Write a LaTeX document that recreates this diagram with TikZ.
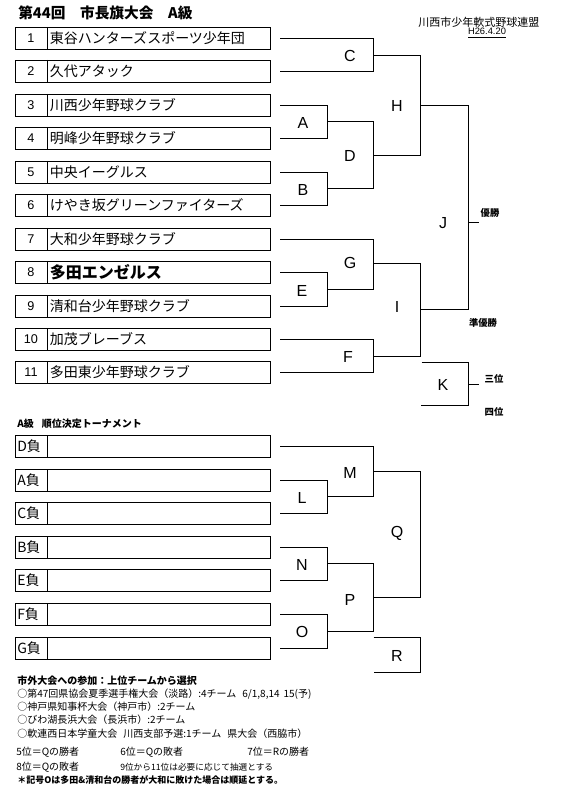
\documentclass[tikz,border=0pt]{standalone}
\usepackage{fontspec}
\setmainfont{Noto Sans CJK JP}
\newfontfamily\arialfont{Liberation Sans}
\tikzset{
  teambox/.style={draw, line width=0.75pt, minimum width=191.25pt, minimum height=16.5pt, inner sep=0pt},
  numlabel/.style={inner sep=0pt, font=\arialfont\fontsize{9.5pt}{10pt}\selectfont},
  namelabel/.style={anchor=west, inner sep=0pt, font=\fontsize{10.5pt}{11pt}\selectfont},
  roundlabel/.style={inner sep=0pt, font=\arialfont\fontsize{12pt}{12pt}\selectfont},
  placelabel/.style={inner sep=0pt, font=\bfseries\fontsize{7pt}{7pt}\selectfont},
  note/.style={anchor=west, inner sep=0pt, font=\fontsize{7.5pt}{8pt}\selectfont},
  smallnote/.style={anchor=west, inner sep=0pt, font=\fontsize{6.5pt}{7pt}\selectfont},
  boldnote/.style={note, font=\bfseries\fontsize{7.5pt}{8pt}\selectfont},
  bracketline/.style={line width=0.75pt}
}
\begin{document}
\begin{tikzpicture}[x=0.75pt, y=-0.75pt]
  \useasboundingbox (0,0) rectangle (577,787);
  % headings
  \node[anchor=west, inner sep=0pt, font=\bfseries\fontsize{11pt}{12pt}\selectfont] (title) at (18,13) {第44回\hspace{1em}市長旗大会\hspace{1em}A級};
  \node[anchor=west, inner sep=0pt, font=\fontsize{8.25pt}{9pt}\selectfont] (league) at (418,22) {川西市少年軟式野球連盟};
  \node[inner sep=0pt, font=\arialfont\fontsize{7pt}{7pt}\selectfont] (date) at (487,33) {\underline{H26.4.20}};
  % main tournament teams
  \foreach \i/\name in {1/東谷ハンターズスポーツ少年団, 2/久代アタック, 3/川西少年野球クラブ,
      4/明峰少年野球クラブ, 5/中央イーグルス, 6/けやき坂グリーンファイターズ, 7/大和少年野球クラブ,
      8/{\bfseries\fontsize{12pt}{12pt}\selectfont 多田エンゼルス}, 9/清和台少年野球クラブ,
      10/加茂ブレーブス, 11/多田東少年野球クラブ} {
    \pgfmathsetmacro\yy{round(38+33.45*(\i-1))+0.5}
    \node[teambox] (t\i) at (143,\yy) {};
    \draw[line width=0.75pt] ([xshift=24pt]t\i.north west) -- ([xshift=24pt]t\i.south west);
    \node[numlabel] (n\i) at ([xshift=12pt]t\i.west) {\i};
    \node[namelabel] (m\i) at ([xshift=26pt]t\i.west) {\name};
  }
  % junctions
  \coordinate (A) at (327.5,121.5);
  \coordinate (B) at (327.5,188.5);
  \coordinate (E) at (327.5,289.5);
  \coordinate (C) at (373.5,55.5);
  \coordinate (D) at (373.5,155.5);
  \coordinate (G) at (373.5,263.5);
  \coordinate (F) at (373.5,356.5);
  \coordinate (H) at (420.5,105.5);
  \coordinate (I) at (420.5,309.5);
  \coordinate (J) at (468.5,222.5);
  \coordinate (K) at (468.5,384.5);
  \coordinate (ktop) at (421.5,362.5);
  \coordinate (kbot) at (420.5,405.5);
  \begin{scope}[bracketline]
    \draw ([xshift=6.75pt]t1.east) -| (C) |- ([xshift=6.75pt]t2.east);
    \draw ([xshift=6.75pt]t3.east) -| (A) |- ([xshift=6.75pt]t4.east);
    \draw ([xshift=6.75pt]t5.east) -| (B) |- ([xshift=6.75pt]t6.east);
    \draw ([xshift=6.75pt]t8.east) -| (E) |- ([xshift=6.75pt]t9.east);
    \draw ([xshift=6.75pt]t7.east) -| (G) |- (E);
    \draw ([xshift=6.75pt]t10.east) -| (F) |- ([xshift=6.75pt]t11.east);
    \draw (A) -| (D) |- (B);
    \draw (C) -| (H) |- (D);
    \draw (G) -| (I) |- (F);
    \draw (H) -| (J) |- (I);
    \draw (J) -- ++(10,0);
    \draw (ktop) -| (K) |- (kbot);
    \draw (K) -- ++(10,0);
  \end{scope}
  \node[roundlabel] (labA) at (303,123) {A};
  \node[roundlabel] (labB) at (303,190) {B};
  \node[roundlabel] (labE) at (302,291) {E};
  \node[roundlabel] (labC) at (350,56) {C};
  \node[roundlabel] (labD) at (350,156) {D};
  \node[roundlabel] (labG) at (350,263) {G};
  \node[roundlabel] (labF) at (348,357) {F};
  \node[roundlabel] (labH) at (397,106) {H};
  \node[roundlabel] (labI) at (397,307) {I};
  \node[roundlabel] (labJ) at (443,223) {J};
  \node[roundlabel] (labK) at (443,385) {K};
  \node[placelabel] (first) at (490,213) {優勝};
  \node[placelabel] (second) at (483,323) {準優勝};
  \node[placelabel] (third) at (494,379) {三位};
  \node[placelabel] (fourth) at (494,412) {四位};
  % placement tournament
  \node[boldnote] (rankhead) at (17,424) {A級\hspace{0.8em}順位決定トーナメント};
  \foreach \i/\lbl in {1/D負, 2/A負, 3/C負, 4/B負, 5/E負, 6/F負, 7/G負} {
    \pgfmathsetmacro\yy{round(446+33.6*(\i-1))+0.5}
    \node[teambox] (s\i) at (143,\yy) {};
    \draw[line width=0.75pt] ([xshift=24pt]s\i.north west) -- ([xshift=24pt]s\i.south west);
    \node[namelabel] (l\i) at ([xshift=1.5pt]s\i.west) {\lbl};
  }
  \coordinate (L) at (327.5,496.5);
  \coordinate (N) at (327.5,563.5);
  \coordinate (O) at (327.5,631.5);
  \coordinate (M) at (373.5,471.5);
  \coordinate (P) at (373.5,597.5);
  \coordinate (Q) at (420.5,534.5);
  \coordinate (R) at (420.5,654.5);
  \coordinate (rtop) at (373.5,637.5);
  \coordinate (rbot) at (373.5,672.5);
  \begin{scope}[bracketline]
    \draw ([xshift=6.75pt]s2.east) -| (L) |- ([xshift=6.75pt]s3.east);
    \draw ([xshift=6.75pt]s4.east) -| (N) |- ([xshift=6.75pt]s5.east);
    \draw ([xshift=6.75pt]s6.east) -| (O) |- ([xshift=6.75pt]s7.east);
    \draw ([xshift=6.75pt]s1.east) -| (M) |- (L);
    \draw (N) -| (P) |- (O);
    \draw (M) -| (Q) |- (P);
    \draw (rtop) -| (R) |- (rbot);
  \end{scope}
  \node[roundlabel] (labL) at (302,498) {L};
  \node[roundlabel] (labN) at (302,565) {N};
  \node[roundlabel] (labO) at (302,632) {O};
  \node[roundlabel] (labM) at (350,473) {M};
  \node[roundlabel] (labP) at (350,600) {P};
  \node[roundlabel] (labQ) at (397,533) {Q};
  \node[roundlabel] (labR) at (397,656) {R};
  % notes
  \node[boldnote] (outside) at (17,681) {市外大会への参加：上位チームから選択};
  \node[note] (ev1) at (17,694) {○第47回県協会夏季選手権大会（淡路）:4チーム\hspace{0.6em}6/1,8,14\hspace{0.4em}15(予)};
  \node[note] (ev2) at (17,707) {○神戸県知事杯大会（神戸市）:2チーム};
  \node[note] (ev3) at (17,720) {○びわ湖長浜大会（長浜市）:2チーム};
  \node[note] (ev4) at (17,734) {○軟連西日本学童大会\hspace{0.6em}川西支部予選:1チーム\hspace{0.6em}県大会（西脇市）};
  \node[note] (pl5) at (16,752) {5位＝Qの勝者};
  \node[note] (pl6) at (120,752) {6位＝Qの敗者};
  \node[note] (pl7) at (247,752) {7位＝Rの勝者};
  \node[note] (pl8) at (16,767) {8位＝Qの敗者};
  \node[smallnote] (pl9) at (120,767) {9位から11位は必要に応じて抽選とする};
  \node[boldnote, font=\bfseries\fontsize{6.75pt}{7pt}\selectfont] (remark) at (17,780) {＊記号Oは多田\&清和台の勝者が大和に敗けた場合は順延とする。};
\end{tikzpicture}
\end{document}
